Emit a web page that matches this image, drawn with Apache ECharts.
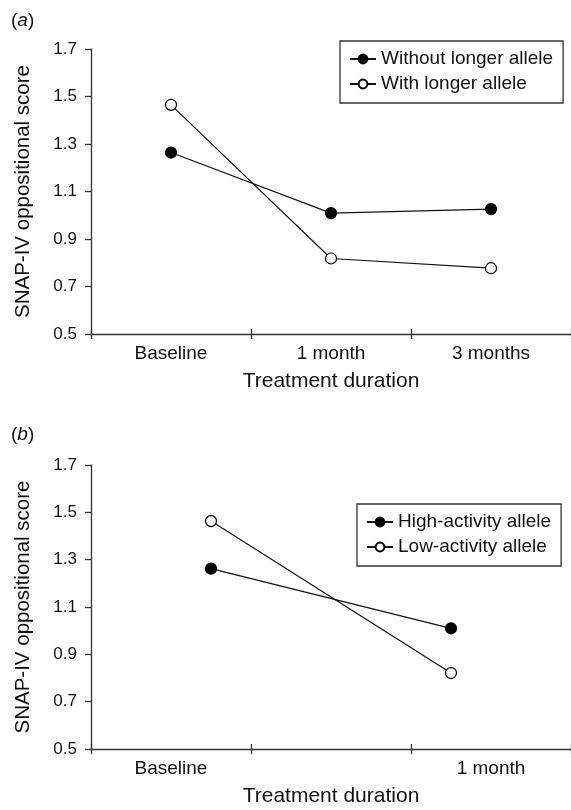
<!DOCTYPE html>
<html><head><meta charset="utf-8">
<script src="https://cdn.jsdelivr.net/npm/echarts@6/dist/echarts.min.js"></script>
<style>html,body{margin:0;padding:0;background:#fff}#c{width:571px;height:810px}</style>
</head><body><div id="c"></div>
<script>
// ---- data ----
const catsA = ['Baseline', '1 month', '3 months'];
const withoutLonger = [1.264, 1.009, 1.026];
const withLonger = [1.465, 0.818, 0.777];
const legendA = ['Without longer allele', 'With longer allele'];

const catsBAxis = ['Baseline', '', '1 month'];
const catsB = ['Baseline', '1 month'];
const highActivity = [1.262, 1.010];
const lowActivity = [1.463, 0.821];
const legendB = ['High-activity allele', 'Low-activity allele'];

const yTicks = [0.5, 0.7, 0.9, 1.1, 1.3, 1.5, 1.7];
const yMin = 0.5, yMax = 1.7;
const yName = 'SNAP-IV oppositional score';
const xName = 'Treatment duration';

// ---- styles ----
const FONT = "'Liberation Sans', Arial, sans-serif";
const TXT = '#111';
const AX = '#333';

const gridA = { left: 91, right: 0, top: 49, height: 285 };
const gridB = { left: 91, right: 0, top: 465, height: 284 };

function yAxisVisible(gi) {
  return {
    gridIndex: gi, type: 'value', min: yMin, max: yMax,
    name: yName, nameLocation: 'middle', nameGap: 57, nameRotate: 90,
    nameTextStyle: { fontSize: 20.5, color: TXT, fontFamily: FONT },
    axisLine: { show: true, lineStyle: { color: AX, width: 1.3 } },
    axisTick: { show: true, length: 6, lineStyle: { color: AX, width: 1.3 }, customValues: yTicks },
    axisLabel: { margin: 14, fontSize: 17, color: TXT, fontFamily: FONT, customValues: yTicks,
      formatter: v => v.toFixed(1) },
    splitLine: { show: false }
  };
}
function yAxisHidden(gi) {
  return { gridIndex: gi, type: 'value', min: yMin, max: yMax, show: false, splitLine: { show: false } };
}
function xAxisVisible(gi, cats) {
  return {
    gridIndex: gi, type: 'category', data: cats, boundaryGap: true, position: 'bottom',
    name: xName, nameLocation: 'middle', nameGap: 37,
    nameTextStyle: { fontSize: 21, color: TXT, fontFamily: FONT },
    axisLine: { show: true, lineStyle: { color: AX, width: 1.3 } },
    axisTick: { show: true, length: 5, lineStyle: { color: AX, width: 1.3 } },
    axisLabel: { margin: 10, fontSize: 19, color: TXT, fontFamily: FONT, interval: 0 },
    splitLine: { show: false }
  };
}
function xAxisInsideTicks(gi, cats) {
  return {
    gridIndex: gi, type: 'category', data: cats, boundaryGap: true, position: 'bottom',
    axisLine: { show: false },
    axisTick: { show: true, inside: true, length: 5, lineStyle: { color: AX, width: 1.3 } },
    axisLabel: { show: false }, splitLine: { show: false }
  };
}
function lineSeries(name, data, xi, yi, filled) {
  return {
    type: 'line', name: name, data: data, xAxisIndex: xi, yAxisIndex: yi,
    symbol: 'circle', symbolSize: 11, showSymbol: true,
    lineStyle: { color: '#111', width: 1.2 },
    itemStyle: { color: filled ? '#000' : '#fff', borderColor: '#000', borderWidth: 1.2 },
    emphasis: { disabled: true }, animation: false, z: filled ? 3 : 2
  };
}
function legend(names, left, top) {
  return {
    data: names, orient: 'vertical', left: left, top: top,
    borderColor: AX, borderWidth: 1.3, padding: [8, 10, 9, 9], itemGap: 5,
    itemWidth: 26, itemHeight: 11,
    textStyle: { fontSize: 19, color: TXT, fontFamily: FONT, lineHeight: 20 },
    selectedMode: false
  };
}
function panelLabel(letter, top) {
  return {
    type: 'text', left: 11, top: top,
    style: {
      text: '{n|(}{i|' + letter + '}{n|)}',
      rich: {
        n: { fontSize: 19, fill: TXT, fontFamily: FONT },
        i: { fontSize: 19, fill: TXT, fontFamily: FONT, fontStyle: 'italic' }
      }
    }
  };
}

const chart = echarts.init(document.getElementById('c'), null, { renderer: 'canvas' });
chart.setOption({
  animation: false,
  backgroundColor: '#fff',
  grid: [gridA, gridA, gridB, gridB],
  xAxis: [
    xAxisVisible(0, catsA),
    xAxisInsideTicks(1, catsA),
    xAxisVisible(2, catsBAxis),
    xAxisInsideTicks(3, catsBAxis),
    { gridIndex: 3, type: 'category', data: catsB, boundaryGap: true, position: 'top', show: false }
  ],
  yAxis: [yAxisVisible(0), yAxisHidden(1), yAxisVisible(2), yAxisHidden(3)],
  legend: [legend(legendA, 340, 41), legend(legendB, 357, 504)],
  series: [
    lineSeries(legendA[0], withoutLonger, 0, 0, true),
    lineSeries(legendA[1], withLonger, 0, 0, false),
    lineSeries(legendB[0], highActivity, 4, 3, true),
    lineSeries(legendB[1], lowActivity, 4, 3, false)
  ],
  graphic: [panelLabel('a', 11), panelLabel('b', 425)]
});
</script>
</body></html>
